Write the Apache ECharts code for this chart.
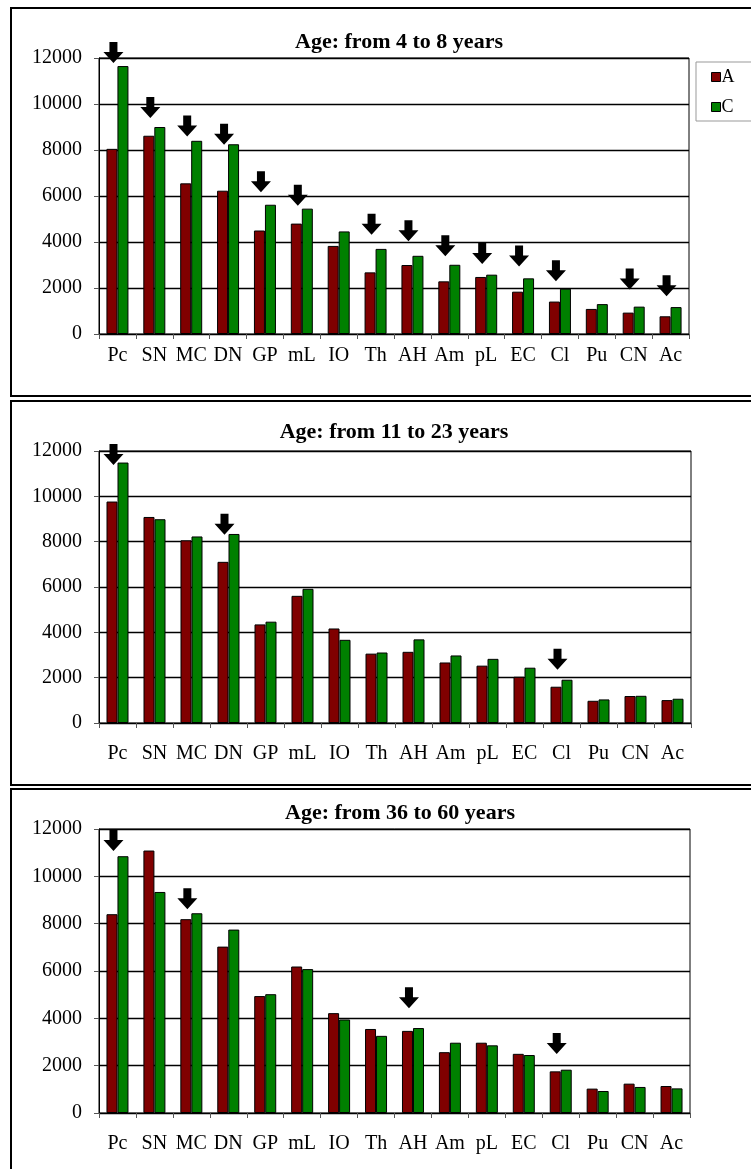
<!DOCTYPE html>
<html>
<head>
<meta charset="utf-8">
<script src="https://cdn.jsdelivr.net/npm/echarts@6/dist/echarts.min.js"></script>
<style>
html,body{margin:0;padding:0;background:#fff;}
#c{width:751px;height:1169px;}
</style>
</head>
<body>
<div id="c"></div>
<script>
const categories = ['Pc','SN','MC','DN','GP','mL','IO','Th','AH','Am','pL','EC','Cl','Pu','CN','Ac'];
const titles = ['Age: from 4 to 8 years', 'Age: from 11 to 23 years', 'Age: from 36 to 60 years'];
const seriesNames = ['A', 'C'];
const yMin = 0, yMax = 12000, yStep = 2000;

const a1 = [8050, 8620, 6550, 6230, 4500, 4800, 3830, 2680, 3000, 2290, 2480, 1840, 1410, 1090, 930, 770];
const c1 = [11650, 9000, 8400, 8250, 5620, 5450, 4460, 3700, 3400, 3010, 2580, 2420, 1970, 1300, 1190, 1170];
const arrows1 = [['Pc', 11780], ['SN', 9390], ['MC', 8590], ['DN', 8230], ['GP', 6160], ['mL', 5580], ['Th', 4320], ['AH', 4030], ['Am', 3380], ['pL', 3040], ['EC', 2940], ['Cl', 2290], ['CN', 1930], ['Ac', 1640]];

const a2 = [9770, 9090, 8060, 7110, 4350, 5610, 4170, 3060, 3140, 2670, 2530, 2040, 1600, 980, 1190, 1010];
const c2 = [11490, 8990, 8230, 8340, 4470, 5920, 3670, 3110, 3690, 2980, 2830, 2440, 1910, 1040, 1200, 1070];
const arrows2 = [['Pc', 11380], ['DN', 8300], ['Cl', 2350]];

const a3 = [8400, 11090, 8190, 7030, 4940, 6190, 4220, 3550, 3470, 2570, 2970, 2500, 1760, 1030, 1240, 1140];
const c3 = [10850, 9340, 8440, 7750, 5020, 6080, 3950, 3260, 3590, 2970, 2860, 2450, 1830, 930, 1100, 1040];
const arrows3 = [['Pc', 11070], ['MC', 8610], ['AH', 4430], ['Cl', 2490]];

const panels = [
  {a: a1, c: c1, arrows: arrows1},
  {a: a2, c: c2, arrows: arrows2},
  {a: a3, c: c3, arrows: arrows3}
];

const FONT = "'Liberation Serif', 'Times New Roman', serif";
const RED = '#800000', GREEN = '#008000';
const ARROW = 'path://M6,0 L14,0 L14,10 L20,10 L10,21 L0,10 L6,10 Z';

const layouts = [
  {grid: {left: 99, top: 58, width: 590, height: 276}, titleX: 399, titleY: 42, labelMargin: 12, box: {y: 8, h: 388}},
  {grid: {left: 99, top: 451, width: 592, height: 272}, titleX: 394, titleY: 432, labelMargin: 21, box: {y: 401, h: 384}},
  {grid: {left: 99, top: 829, width: 591, height: 284}, titleX: 400, titleY: 813, labelMargin: 21, box: {y: 789, h: 420}}
];

const option = {
  backgroundColor: '#fff',
  animation: false,
  title: [], grid: [], xAxis: [], yAxis: [], series: [],
  legend: {
    data: seriesNames,
    orient: 'vertical',
    left: 711, top: 68,
    padding: 0,
    icon: 'rect',
    itemWidth: 9, itemHeight: 9,
    itemGap: 12,
    itemStyle: {borderColor: '#000', borderWidth: 1},
    textStyle: {fontFamily: FONT, fontSize: 18, color: '#000', padding: [0, 0, 0, -4]}
  },
  graphic: []
};

layouts.forEach((L, i) => {
  const p = panels[i];
  option.graphic.push({
    type: 'rect', silent: true, z: -1,
    shape: {x: 11, y: L.box.y, width: 800, height: L.box.h},
    style: {fill: 'none', stroke: '#000', lineWidth: 2}
  });
  option.title.push({
    text: titles[i], left: L.titleX, top: L.titleY, padding: 0,
    textAlign: 'center', textVerticalAlign: 'middle',
    textStyle: {fontFamily: FONT, fontSize: 22, fontWeight: 'bold', color: '#000'}
  });
  option.grid.push(Object.assign({show: true, borderColor: '#000', borderWidth: 1, backgroundColor: 'transparent', containLabel: false}, L.grid));
  option.xAxis.push({
    type: 'category', gridIndex: i, data: categories,
    axisLine: {lineStyle: {color: '#000', width: 1}},
    axisTick: {show: true, length: 5, lineStyle: {color: '#555'}},
    axisLabel: {color: '#000', fontFamily: FONT, fontSize: 20, margin: L.labelMargin, interval: 0},
    splitLine: {show: false}
  });
  option.yAxis.push({
    type: 'value', gridIndex: i, min: yMin, max: yMax, interval: yStep,
    axisLine: {show: true, lineStyle: {color: '#000', width: 1}},
    axisTick: {show: true, length: 5, lineStyle: {color: '#555'}},
    axisLabel: {color: '#000', fontFamily: FONT, fontSize: 20, margin: 17, formatter: v => String(v)},
    splitLine: {show: true, lineStyle: {color: '#000', width: 1.3}}
  });
  option.series.push({
    name: seriesNames[0], type: 'bar', xAxisIndex: i, yAxisIndex: i,
    data: p.a, barWidth: 11, barGap: '0%',
    itemStyle: {color: RED, borderColor: '#000', borderWidth: 1}
  });
  option.series.push({
    name: seriesNames[1], type: 'bar', xAxisIndex: i, yAxisIndex: i,
    data: p.c, barWidth: 11, barGap: '0%',
    itemStyle: {color: GREEN, borderColor: '#000', borderWidth: 1}
  });
  option.series.push({
    name: 'arrow', type: 'scatter', xAxisIndex: i, yAxisIndex: i,
    data: p.arrows, symbol: ARROW, symbolSize: [20, 21], symbolOffset: [-4, -10.5],
    itemStyle: {color: '#000', opacity: 1}, clip: false, silent: true, z: 5
  });
});

option.graphic.push({
  type: 'rect', silent: true,
  shape: {x: 696, y: 62, width: 80, height: 59},
  style: {fill: 'none', stroke: '#999', lineWidth: 1}
});

const chart = echarts.init(document.getElementById('c'), null, {renderer: 'canvas'});
chart.setOption(option);
</script>
</body>
</html>
